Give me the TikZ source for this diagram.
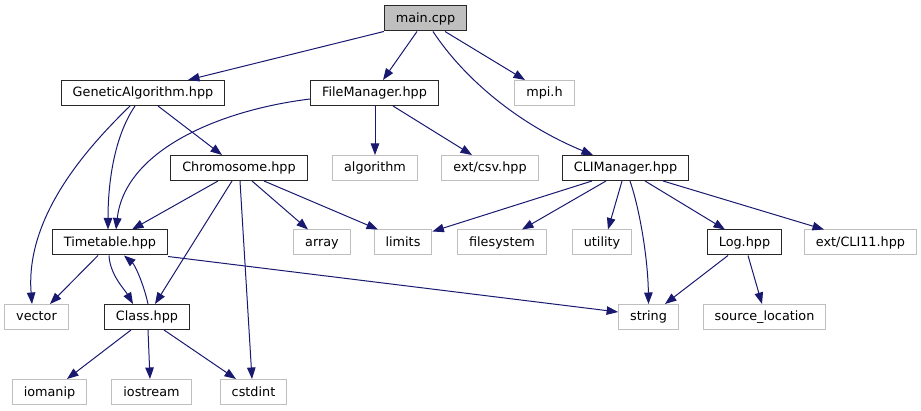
\documentclass[tikz,border=0pt]{standalone}
\usepackage{fontspec}
\setmainfont{DejaVu Sans}
\usetikzlibrary{arrows.meta,calc}
\definecolor{edgeblue}{RGB}{25,25,112}
\definecolor{sysgrey}{RGB}{191,191,191}
\definecolor{boxline}{RGB}{40,40,40}

\begin{document}
\begin{tikzpicture}[
      x=1pt, y=-1pt,
      font=\fontsize{12.8}{15}\selectfont,
      box/.style={rectangle, line width=1pt, inner xsep=11.5pt, inner ysep=0pt, text height=10.3pt, text depth=2.3pt, minimum height=25pt},
      hdr/.style={box, draw=boxline, fill=white},
      root/.style={box, draw=boxline, fill=sysgrey},
      sys/.style={box, draw=sysgrey, fill=white},
      arrow/.style={-{Triangle[length=11.5pt,width=8.5pt]}, line width=1pt, edgeblue}
    ]
      \useasboundingbox (0,0) rectangle (921,411);

      \node[root] (main) at (425.5,18.5) {main.cpp};

      \node[hdr] (ga) at (143,93) {GeneticAlgorithm.hpp};
      \node[hdr] (fm) at (374.5,93) {FileManager.hpp};
      \node[sys] (mpi) at (544.5,93) {mpi.h};

      \node[hdr] (chrom) at (239,168) {Chromosome.hpp};
      \node[sys] (algo) at (375,168) {algorithm};
      \node[sys] (csv) at (490,168) {ext/csv.hpp};
      \node[hdr] (cli) at (625.5,168) {CLIManager.hpp};

      \node[hdr] (tt) at (110,242.5) {Timetable.hpp};
      \node[sys] (arr) at (322,242.5) {array};
      \node[sys] (lim) at (403,242.5) {limits};
      \node[sys] (fs) at (502,242.5) {filesystem};
      \node[sys] (util) at (602,242.5) {utility};
      \node[hdr] (log) at (744.5,242.5) {Log.hpp};
      \node[sys] (cli11) at (860.5,242.5) {ext/CLI11.hpp};

      \node[sys] (vec) at (36.5,317) {vector};
      \node[hdr] (cls) at (147,317) {Class.hpp};
      \node[sys] (str) at (648.5,317) {string};
      \node[sys] (srcloc) at (764.5,317) {source\_location};

      \node[sys] (iom) at (49.5,392) {iomanip};
      \node[sys] (ios) at (151.5,392) {iostream};
      \node[sys] (cstd) at (253.5,392) {cstdint};

      \draw[arrow] (main.south west) -- ([xshift=45pt]ga.north);
      \draw[arrow] ([xshift=-8.5pt]main.south) -- ([xshift=8.5pt]fm.north);
      \draw[arrow] ([xshift=19.5pt]main.south) -- ([xshift=-19.5pt]mpi.north);
      \draw[arrow] ([xshift=7.5pt]main.south) .. controls (465,80) and (520,125) .. ([xshift=-32.5pt]cli.north);

      \draw[arrow] ([xshift=-13pt]ga.south) .. controls (90,145) and (25,215) .. ([xshift=-4.5pt]vec.north);
      \draw[arrow] ([xshift=-8pt]ga.south) .. controls (112,140) and (108,190) .. ([xshift=-2pt]tt.north);
      \draw[arrow] ([xshift=15pt]ga.south) -- ([xshift=-17pt]chrom.north);

      \draw[arrow] ([yshift=-6pt]fm.west) .. controls (220,110) and (125,150) .. ([xshift=6pt]tt.north);
      \draw[arrow] ([xshift=0.5pt]fm.south) -- (algo.north);
      \draw[arrow] ([xshift=18.5pt]fm.south) -- ([xshift=-18pt]csv.north);

      \draw[arrow] ([xshift=-21pt]chrom.south) -- ([xshift=22pt]tt.north);
      \draw[arrow] ([xshift=-7pt]chrom.south) -- ([xshift=8pt]cls.north);
      \draw[arrow] ([xshift=1pt]chrom.south) -- ([xshift=-1.5pt]cstd.north);
      \draw[arrow] ([xshift=13pt]chrom.south) -- ([xshift=-14pt]arr.north);
      \draw[arrow] ([xshift=25pt]chrom.south) -- ([xshift=-25pt]lim.north);

      \draw[arrow] ([xshift=-12pt]tt.south) -- ([xshift=13.5pt]vec.north);
      \draw[arrow] ([xshift=-1pt]tt.south) .. controls (110,275) and (125,290) .. ([xshift=-14pt]cls.north);
      \draw[arrow] ([xshift=1pt]cls.north) .. controls (144,285) and (135,265) .. ([xshift=14pt]tt.south);
      \draw[arrow] ([yshift=-14pt]tt.east) -- ([yshift=5pt]str.west);

      \draw[arrow] ([xshift=-33.5pt]cli.south) -- ([yshift=-2pt]lim.north east);
      \draw[arrow] ([xshift=-19.5pt]cli.south) -- ([xshift=20pt]fs.north);
      \draw[arrow] ([xshift=-3.5pt]cli.south) -- ([xshift=6pt]util.north);
      \draw[arrow] ([xshift=4.5pt]cli.south) .. controls (640,210) and (648,260) .. (str.north);
      \draw[arrow] ([xshift=19.5pt]cli.south) -- ([xshift=-19.5pt]log.north);
      \draw[arrow] ([xshift=37.5pt]cli.south) -- ([xshift=-36.5pt]cli11.north);

      \draw[arrow] ([xshift=-16.5pt]log.south) -- ([xshift=16.5pt]str.north);
      \draw[arrow] ([xshift=3.5pt]log.south) -- ([xshift=-2.5pt]srcloc.north);

      \draw[arrow] ([xshift=-16pt]cls.south) -- ([xshift=17.5pt]iom.north);
      \draw[arrow] ([xshift=1pt]cls.south) -- ([xshift=-1.5pt]ios.north);
      \draw[arrow] ([xshift=17pt]cls.south) -- ([xshift=-17.5pt]cstd.north);
    \end{tikzpicture}
\end{document}
